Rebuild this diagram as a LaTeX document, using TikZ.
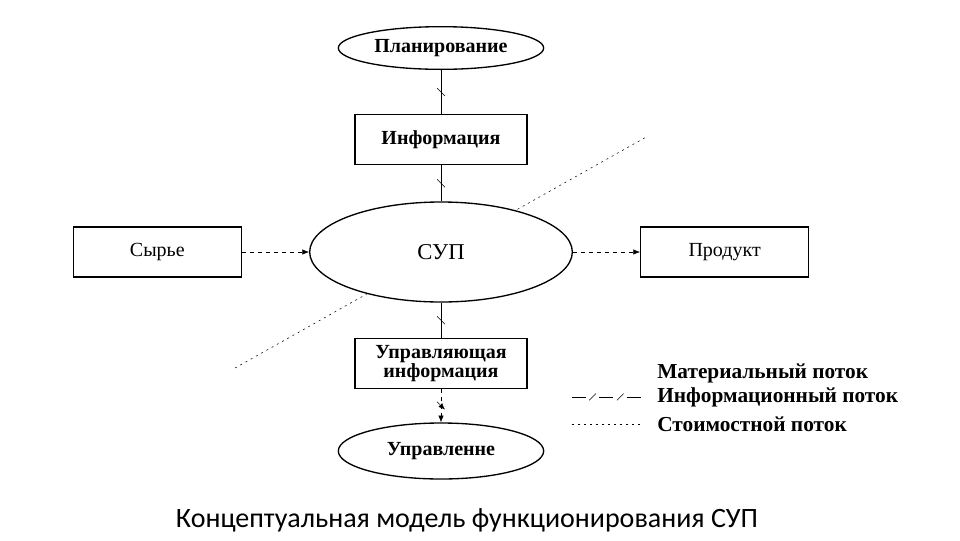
\documentclass[tikz,border=0pt]{standalone}
\usepackage{fontspec}
\setmainfont{Liberation Serif}
\newfontfamily\captionfont{Carlito}
\usetikzlibrary{shapes.geometric, arrows.meta, positioning, decorations.markings}
\tikzstyle{block} = [rectangle, minimum width=129pt, minimum height=37.5pt, text centered, draw=black, line width=1pt, fill=white, inner sep=2pt, font=\fontsize{15}{13}\selectfont\bfseries]
\tikzstyle{oval} = [ellipse, minimum width=154pt, minimum height=32pt, inner sep=0pt, draw=black, line width=1pt, fill=white, font=\fontsize{15}{15}\selectfont\bfseries]
\tikzstyle{legend} = [anchor=west, inner sep=0pt, font=\fontsize{16}{16}\selectfont\bfseries]
\tikzstyle{slash} = [postaction={decorate}, decoration={markings, mark=at position 0.5 with {\draw[thin] (-3pt,-3pt) -- (3pt,3pt);}}]
\tikzstyle{infoflow} = [thin, slash]
\tikzstyle{matflow} = [thin, dashed, -{Latex[length=5pt, width=4pt]}]
\tikzstyle{costflow} = [thin, dash pattern=on 1.5pt off 3pt]

\begin{document}
\begin{tikzpicture}[node distance=2cm]

        \useasboundingbox (0pt,0pt) rectangle (720pt,-405pt);

        \coordinate (costlow) at (176.25pt,-276pt);
        \coordinate (costhigh) at (486pt,-102pt);
        \draw [costflow] (costlow) -- (costhigh);

        \node (sup) [oval, minimum width=197pt, minimum height=75pt, font=\fontsize{17}{17}\selectfont] at (330.75pt,-189pt) {СУП};
        \node (info) [block, above=27pt of sup] {Информация};
        \node (plan) [oval, above=33pt of info] {Планирование};
        \node (raw) [block, minimum width=126pt, left=50.25pt of sup, font=\fontsize{15}{15}\selectfont] {Сырье};
        \node (prod) [block, minimum width=126pt, right=50.25pt of sup, font=\fontsize{15}{15}\selectfont] {Продукт};
        \node (ctrlinfo) [block, below=26.25pt of sup, align=center] {Управляющая\\информация};
        \node (ctrl) [oval, minimum height=42pt, below=25pt of ctrlinfo] {Управленне};

        \draw [infoflow] (plan) -- (info);
        \draw [infoflow] (info) -- (sup);
        \draw [infoflow] (sup) -- (ctrlinfo);
        \draw [infoflow, dashed, -{Latex[length=5pt, width=4pt]}] (ctrlinfo) -- (ctrl);
        \draw [matflow] (raw) -- (sup);
        \draw [matflow] (sup) -- (prod);

        % legend
        \node (legmat) [legend] at (492.75pt,-279.75pt) {Материальный поток};
        \node (leginfo) [legend] at (492.75pt,-297.75pt) {Информационный поток};
        \node (legcost) [legend] at (492.75pt,-318pt) {Стоимостной поток};
        \coordinate (infoA) at (429pt,-297.75pt);
        \coordinate (infoB) at (482.25pt,-297.75pt);
        \coordinate (costA) at (429pt,-318pt);
        \coordinate (costB) at (480pt,-318pt);
        \draw [thin, dash pattern=on 10.5pt off 10pt, postaction={decorate}, decoration={markings, mark=at position 0.29 with {\draw[thin] (-2.5pt,-2.5pt) -- (2.5pt,2.5pt);}, mark=at position 0.68 with {\draw[thin] (-2.5pt,-2.5pt) -- (2.5pt,2.5pt);}}] (infoA) -- (infoB);
        \draw [costflow] (costA) -- (costB);

        \node (caption) [font=\captionfont\fontsize{21}{21}\selectfont] at (350.25pt,-390pt) {Концептуальная модель функционирования СУП};

    \end{tikzpicture}
\end{document}
